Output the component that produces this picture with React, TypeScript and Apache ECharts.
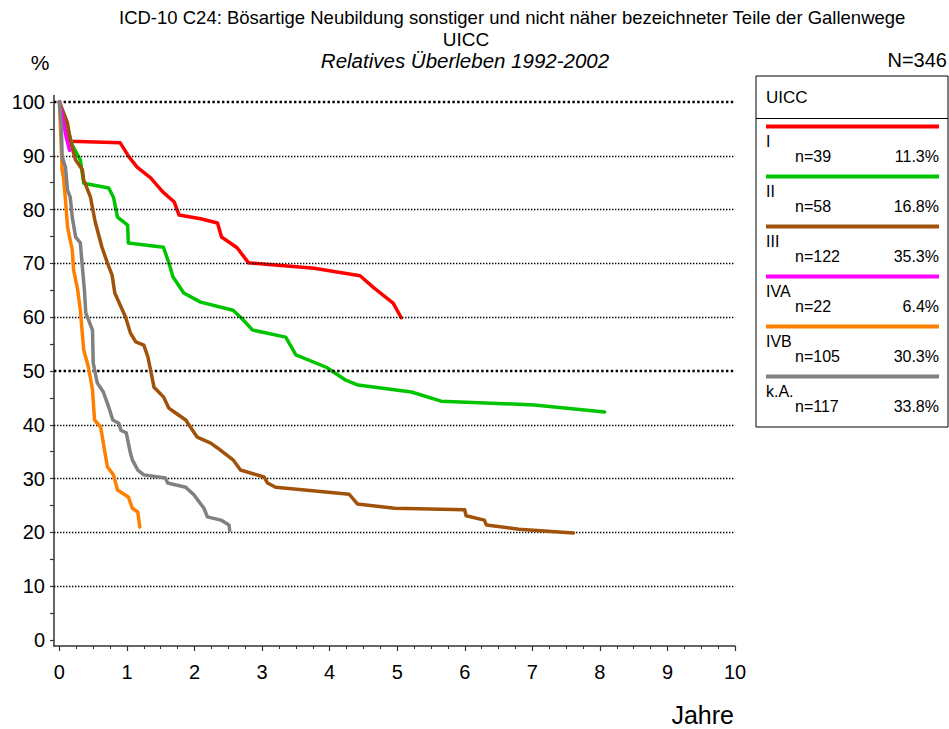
import React, { useEffect, useRef } from "react";
import * as echarts from "echarts";

// ---- data (years, relative survival %) ----
const stageNames = ["I", "II", "III", "IVA", "IVB", "k.A."];
const stageCounts = ["n=39", "n=58", "n=122", "n=22", "n=105", "n=117"];
const stageShares = ["11.3%", "16.8%", "35.3%", "6.4%", "30.3%", "33.8%"];
const stageColors = ["#ff0000", "#00c400", "#a0520a", "#ff00ff", "#ff8000", "#808080"];

const stageI = [
  [0, 100], [0.05, 96], [0.16, 92.7], [0.9, 92.4], [1.03, 89.8], [1.15, 87.9], [1.35, 85.9],
  [1.53, 83.3], [1.7, 81.4], [1.77, 79], [2.09, 78.3], [2.34, 77.5], [2.4, 74.9], [2.63, 72.9],
  [2.8, 70.1], [3.77, 69.1], [4.45, 67.7], [4.66, 65.4], [4.94, 62.6], [5.06, 59.9],
];
const stageII = [
  [0, 100], [0.1, 96], [0.19, 92], [0.31, 89.2], [0.36, 84.9], [0.73, 84], [0.8, 82.3],
  [0.86, 78.6], [1.01, 77.1], [1.02, 73.8], [1.54, 73], [1.62, 70.1], [1.68, 67.5], [1.84, 64.5],
  [2.09, 62.8], [2.57, 61.3], [2.69, 59.9], [2.86, 57.6], [3.35, 56.3], [3.5, 53], [3.95, 50.7],
  [4.24, 48.3], [4.42, 47.4], [5.21, 46.1], [5.65, 44.4], [7.03, 43.7], [8.07, 42.4],
];
const stageIII = [
  [0, 100], [0.12, 96.1], [0.16, 93], [0.21, 90.5], [0.24, 89.2], [0.34, 87.4], [0.36, 85.5],
  [0.46, 82.3], [0.53, 77.7], [0.63, 73], [0.71, 70.1], [0.78, 67.8], [0.82, 64.5], [0.98, 60],
  [1.05, 57.1], [1.13, 55.4], [1.25, 54.8], [1.31, 52.6], [1.4, 47], [1.54, 45.2], [1.62, 43.1],
  [1.72, 42.2], [1.87, 40.9], [2.04, 37.7], [2.24, 36.6], [2.34, 35.7], [2.57, 33.5], [2.68, 31.6],
  [3.03, 30.3], [3.08, 29.2], [3.2, 28.4], [4.29, 27.1], [4.41, 25.3], [4.96, 24.5], [6.0, 24.2],
  [6.02, 23.1], [6.29, 22.3], [6.32, 21.4], [6.8, 20.6], [7.61, 19.9],
];
const stageIVA = [[0, 100], [0.05, 97], [0.1, 93.5], [0.15, 91]];
const stageIVB = [
  [0, 100], [0.02, 94], [0.04, 87.4], [0.06, 85.9], [0.09, 81.8], [0.12, 76.8], [0.16, 74.3],
  [0.19, 72.5], [0.21, 68.8], [0.27, 65.1], [0.31, 61.3], [0.36, 53.9], [0.43, 50.7], [0.49, 46.5],
  [0.52, 40.9], [0.61, 39.6], [0.71, 32.2], [0.8, 30.7], [0.86, 27.9], [1.02, 26.6], [1.08, 24.5],
  [1.16, 23.8], [1.19, 21],
];
const stageKA = [
  [0, 100], [0.03, 95.4], [0.04, 89.8], [0.09, 87.9], [0.12, 83.6], [0.16, 82.3], [0.19, 78.6],
  [0.24, 74.9], [0.31, 73.8], [0.34, 69.3], [0.37, 65.1], [0.39, 60.8], [0.49, 57.6], [0.5, 51.5],
  [0.56, 47.8], [0.65, 46.1], [0.73, 43.3], [0.79, 40.9], [0.88, 40.3], [0.91, 39], [0.99, 38.5],
  [1.05, 34.8], [1.08, 33.5], [1.16, 31.6], [1.25, 30.7], [1.57, 30.1], [1.6, 29.2], [1.87, 28.4],
  [1.99, 27], [2.14, 24.5], [2.19, 22.9], [2.39, 22.3], [2.51, 21.4], [2.52, 20.4],
];
const stageData = [stageI, stageII, stageIII, stageIVA, stageIVB, stageKA];

const yTickLabels = [0, 10, 20, 30, 40, 50, 60, 70, 80, 90, 100];
const yMinorTicks = [0, 5, 10, 15, 20, 25, 30, 35, 40, 45, 50, 55, 60, 65, 70, 75, 80, 85, 90, 95, 100];
const xTickLabels = [0, 1, 2, 3, 4, 5, 6, 7, 8, 9, 10];
const xMinorTicks = Array.from({ length: 41 }, (_, i) => i * 0.25);
const gridLevels = [10, 20, 30, 40, 50, 60, 70, 80, 90, 100];
const boldLevels = [50, 100];

const titleMain = "ICD-10 C24: Bösartige Neubildung sonstiger und nicht näher bezeichneter Teile der Gallenwege";
const titleSub = "UICC";
const titleItalic = "Relatives Überleben 1992-2002";

const FONT = "Liberation Sans, Arial, sans-serif";

export default function App() {
  const ref = useRef<HTMLDivElement>(null);
  useEffect(() => {
    if (!ref.current) return;
    const chart = echarts.init(ref.current, null, { renderer: "svg" });

    const legendLeft = 756;
    const legendTop = 76;
    const legendW = 192;
    const legendH = 351;
    const lineX1 = 766;
    const lineX2 = 939;
    const firstLineY = 126.5;
    const step = 50;

    const legendGraphics: any[] = [
      {
        type: "rect",
        shape: { x: legendLeft, y: legendTop, width: legendW, height: legendH },
        style: { fill: "#fff", stroke: "#000", lineWidth: 1 },
      },
      {
        type: "line",
        shape: { x1: legendLeft, y1: 118.5, x2: legendLeft + legendW, y2: 118.5 },
        style: { stroke: "#000", lineWidth: 1 },
      },
      {
        type: "text",
        x: 766,
        y: 97,
        style: { text: "UICC", font: `17px ${FONT}`, fill: "#000", verticalAlign: "middle" },
      },
    ];
    stageNames.forEach((name, i) => {
      const ly = firstLineY + i * step;
      legendGraphics.push(
        {
          type: "line",
          shape: { x1: lineX1, y1: ly, x2: lineX2, y2: ly },
          style: { stroke: stageColors[i], lineWidth: 4 },
        },
        {
          type: "text",
          x: 766,
          y: ly + 14.5,
          style: { text: name, font: `16px ${FONT}`, fill: "#000", verticalAlign: "middle" },
        },
        {
          type: "text",
          x: 795,
          y: ly + 30,
          style: { text: stageCounts[i], font: `16px ${FONT}`, fill: "#000", verticalAlign: "middle" },
        },
        {
          type: "text",
          x: lineX2,
          y: ly + 30,
          style: {
            text: stageShares[i],
            font: `16px ${FONT}`,
            fill: "#000",
            align: "right",
            verticalAlign: "middle",
          },
        }
      );
    });

    const option: any = {
      animation: false,
      backgroundColor: "#fff",
      textStyle: { fontFamily: FONT },
      graphic: [
        {
          type: "text",
          x: 119,
          y: 17,
          style: { text: titleMain, font: `18.5px ${FONT}`, fill: "#000", verticalAlign: "middle" },
        },
        {
          type: "text",
          x: 466,
          y: 39,
          style: { text: titleSub, font: `19px ${FONT}`, fill: "#000", align: "center", verticalAlign: "middle" },
        },
        {
          type: "text",
          x: 465,
          y: 60,
          style: {
            text: titleItalic,
            font: `italic 20.5px ${FONT}`,
            fill: "#000",
            align: "center",
            verticalAlign: "middle",
          },
        },
        {
          type: "text",
          x: 40,
          y: 62,
          style: { text: "%", font: `21px ${FONT}`, fill: "#000", align: "center", verticalAlign: "middle" },
        },
        {
          type: "text",
          x: 947,
          y: 60,
          style: { text: "N=346", font: `20px ${FONT}`, fill: "#000", align: "right", verticalAlign: "middle" },
        },
        {
          type: "text",
          x: 734,
          y: 715,
          style: { text: "Jahre", font: `25px ${FONT}`, fill: "#000", align: "right", verticalAlign: "middle" },
        },
        ...legendGraphics,
      ],
      grid: { left: 54, right: 214, top: 95.5, bottom: 83, containLabel: false },
      xAxis: [
        {
          type: "value",
          position: "bottom",
          min: -0.08,
          max: 10,
          axisLine: { show: true, onZero: false, lineStyle: { color: "#333", width: 1.5 } },
          axisTick: { show: true, customValues: xTickLabels, length: 5, lineStyle: { color: "#333", width: 1.2 } },
          axisLabel: {
            customValues: xTickLabels,
            margin: 16,
            fontSize: 20,
            color: "#000",
            fontFamily: FONT,
          },
          splitLine: { show: false },
        },
        {
          type: "value",
          position: "bottom",
          min: -0.08,
          max: 10,
          axisLine: { show: false, onZero: false },
          axisTick: { show: true, customValues: xMinorTicks, length: 3, lineStyle: { color: "#333", width: 1 } },
          axisLabel: { show: false },
          splitLine: { show: false },
        },
      ],
      yAxis: {
        type: "value",
        min: -1.1,
        max: 101.2,
        axisLine: { show: true, onZero: false, lineStyle: { color: "#333", width: 1.5 } },
        axisTick: { show: true, customValues: yMinorTicks, length: 4, lineStyle: { color: "#333", width: 1.2 } },
        axisLabel: {
          customValues: yTickLabels,
          margin: 9,
          fontSize: 20,
          color: "#000",
          fontFamily: FONT,
        },
        splitLine: { show: false },
      },
      series: [
        {
          type: "line",
          name: "grid",
          data: [],
          silent: true,
          z: 1,
          markLine: {
            silent: true,
            symbol: "none",
            label: { show: false },
            data: gridLevels.map((v) => {
              const bold = boldLevels.includes(v);
              return {
                yAxis: v,
                lineStyle: {
                  color: "#000",
                  width: bold ? 2.4 : 1.4,
                  type: bold ? [2.4, 2.4] : [1.4, 1.6],
                },
              };
            }),
          },
        },
        ...stageData.map((d, i) => ({
          type: "line",
          name: stageNames[i],
          data: d,
          showSymbol: false,
          symbol: "none",
          z: 3 + i,
          lineStyle: { color: stageColors[i], width: 3.5, join: "round", cap: "round" },
          itemStyle: { color: stageColors[i] },
        })),
      ],
    };
    chart.setOption(option);
    return () => chart.dispose();
  }, []);
  return (
    <div
      ref={ref}
      style={{ position: "fixed", left: 0, top: 0, width: 949, height: 729, background: "#fff" }}
    />
  );
}
